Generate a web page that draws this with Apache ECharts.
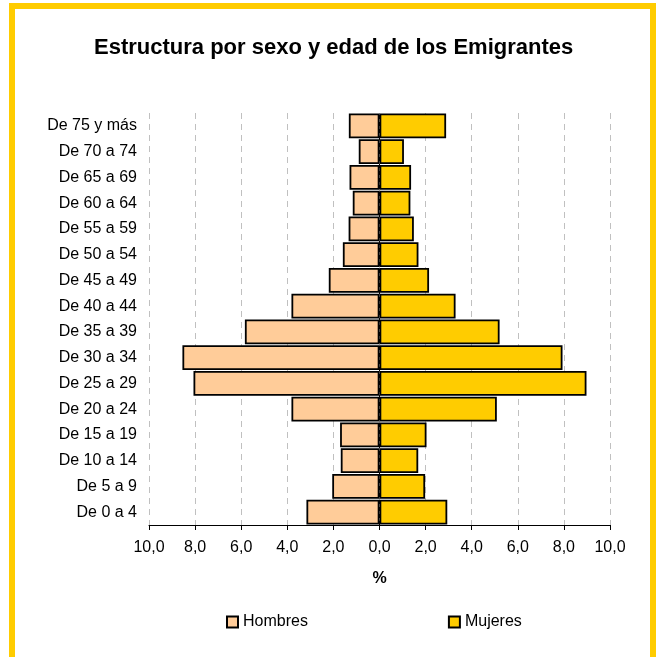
<!DOCTYPE html>
<html>
<head>
<meta charset="utf-8">
<script src="https://cdn.jsdelivr.net/npm/echarts@6/dist/echarts.min.js"></script>
<style>
  html, body { margin: 0; padding: 0; background: #fff; }
  #main { width: 656px; height: 657px; }
</style>
</head>
<body>
<div id="main"></div>
<script>
// grupos de edad, de abajo arriba
var edades = ['De 0 a 4', 'De 5 a 9', 'De 10 a 14', 'De 15 a 19', 'De 20 a 24', 'De 25 a 29',
  'De 30 a 34', 'De 35 a 39', 'De 40 a 44', 'De 45 a 49', 'De 50 a 54', 'De 55 a 59',
  'De 60 a 64', 'De 65 a 69', 'De 70 a 74', 'De 75 y más'];
var hombres = [3.17, 2.05, 1.68, 1.71, 3.82, 8.07, 8.55, 5.84, 3.82, 2.20, 1.59, 1.34, 1.16, 1.30, 0.90, 1.33];
var mujeres = [2.94, 1.98, 1.68, 2.04, 5.09, 8.98, 7.94, 5.21, 3.30, 2.15, 1.69, 1.49, 1.34, 1.37, 1.06, 2.89];
var ticksX = [-10, -8, -6, -4, -2, 0, 2, 4, 6, 8, 10];

var fmt = function (v) { return Math.abs(v).toFixed(1).replace('.', ','); };

var myChart = echarts.init(document.getElementById('main'));
var option = {
  animation: false,
  textStyle: { fontFamily: 'Liberation Sans, Arial, sans-serif', color: '#000' },
  graphic: [{
    type: 'rect',
    shape: { x: 12, y: 6, width: 641, height: 654 },
    style: { fill: 'none', stroke: '#FFCC00', lineWidth: 6 },
    silent: true
  }],
  title: {
    text: 'Estructura por sexo y edad de los Emigrantes',
    left: 89,
    top: 32,
    textStyle: { fontSize: 22, fontWeight: 'bold', color: '#000', fontFamily: 'Liberation Sans, Arial, sans-serif' }
  },
  legend: {
    bottom: 22,
    left: 221,
    itemGap: 140,
    itemWidth: 11,
    itemHeight: 11,
    icon: 'rect',
    textStyle: { fontSize: 16, color: '#000' },
    data: [
      { name: 'Hombres', itemStyle: { borderColor: '#000', borderWidth: 2 } },
      { name: 'Mujeres', itemStyle: { borderColor: '#000', borderWidth: 2 } }
    ]
  },
  grid: { left: 149, right: 46, top: 113, bottom: 132 },
  xAxis: {
    type: 'value',
    min: ticksX[0],
    max: ticksX[ticksX.length - 1],
    interval: 2,
    name: '%',
    nameLocation: 'middle',
    nameGap: 46,
    nameTextStyle: { fontSize: 16, fontWeight: 'bold', color: '#000' },
    axisLine: { show: true, onZero: false, lineStyle: { color: '#000', width: 1 } },
    axisTick: { show: true, length: 5, inside: false, lineStyle: { color: '#000' } },
    axisLabel: { fontSize: 16, color: '#000', margin: 15, formatter: fmt },
    splitLine: { show: true, lineStyle: { color: '#c0c0c0', type: [6, 5], width: 1 } }
  },
  yAxis: {
    type: 'category',
    data: edades,
    axisLine: { show: false },
    axisTick: { show: false },
    axisLabel: { fontSize: 16, color: '#000', margin: 12 }
  },
  series: [
    {
      name: 'Hombres',
      type: 'bar',
      stack: 'total',
      barCategoryGap: '3%',
      data: hombres.map(function (v) { return -v; }),
      itemStyle: { color: '#FFCC99', borderColor: '#000', borderWidth: 1.8 },
      markLine: {
        silent: true,
        symbol: 'none',
        label: { show: false },
        lineStyle: { color: '#000', type: [4, 3], width: 1 },
        data: [{ xAxis: 0 }]
      }
    },
    {
      name: 'Mujeres',
      type: 'bar',
      stack: 'total',
      barCategoryGap: '3%',
      data: mujeres,
      itemStyle: { color: '#FFCC00', borderColor: '#000', borderWidth: 1.8 }
    }
  ]
};
myChart.setOption(option, true);
</script>
</body>
</html>
